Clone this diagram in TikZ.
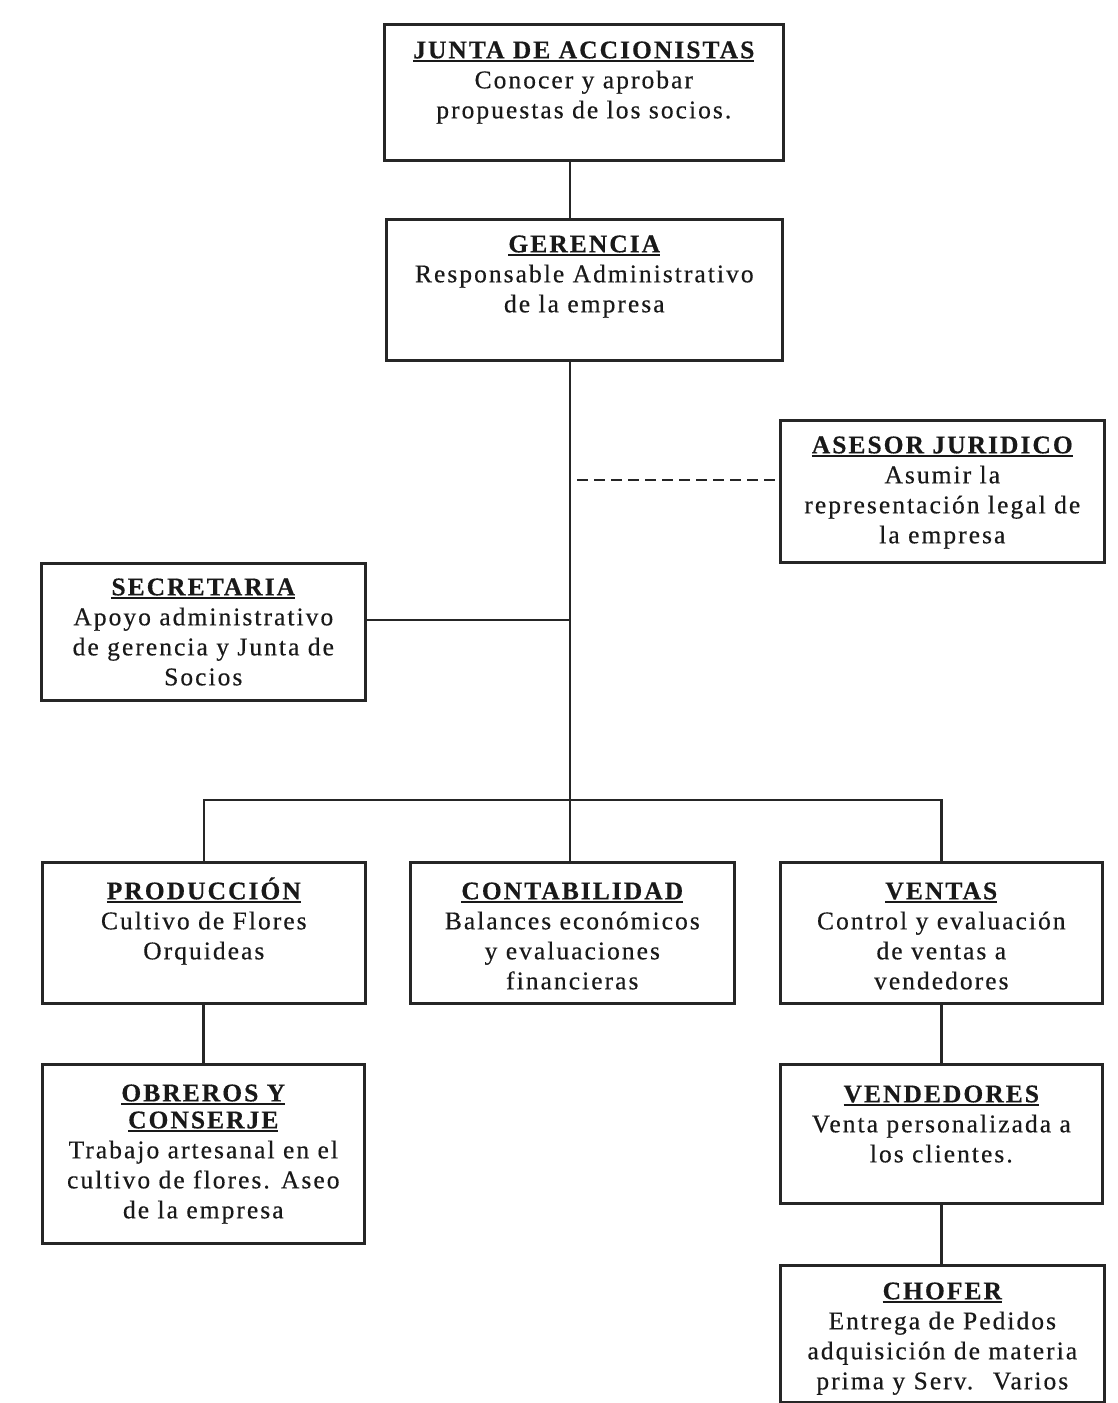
\documentclass[tikz,border=0pt]{standalone}
\usepackage{fontspec}
\setmainfont{Liberation Serif}[LetterSpace=8, FakeBold=0.4]

% underlined heading line
\newsavebox{\headbox}
\newcommand{\headline}[1]{\leavevmode
  \sbox{\headbox}{#1}%
  \rlap{\rule[-3.5pt]{\wd\headbox}{1.7pt}}\usebox{\headbox}}

% box text: width, height, title drop, title, body
\newcommand{\cardtext}[5]{%
  \parbox[c][#2][t]{#1}{\centering\fontsize{25.5}{30}\selectfont
    \rule{0pt}{#3}\textbf{#4}\\#5\par}}

\tikzset{
  card/.style={draw=black!85, line width=2.6pt, inner sep=0pt, anchor=north west,
    text=black!90},
  link/.style={draw=black!85, line width=2.4pt},
  dottedlink/.style={draw=black!85, line width=2.2pt, dash pattern=on 11pt off 6pt},
}

\begin{document}
\begin{tikzpicture}[x=1pt,y=1pt]
  \useasboundingbox (0,0) rectangle (1118,-1403);
  \fill[white] (0,0) rectangle (1118,-1403);

  % top levels
  \node[card] (junta) at (383,-23)
    {\cardtext{399pt}{136pt}{34pt}{\headline{JUNTA DE ACCIONISTAS}}{Conocer y aprobar\\propuestas de los socios.}};
  \node[card] (gerencia) at (385,-218)
    {\cardtext{396pt}{141pt}{33pt}{\headline{GERENCIA}}{Responsable Administrativo\\de la empresa}};

  % staff positions
  \node[card] (asesor) at (779,-419)
    {\cardtext{324pt}{142pt}{33pt}{\headline{ASESOR JURIDICO}}{Asumir la\\representación legal de\\la empresa}};
  \node[card] (secretaria) at (40,-562)
    {\cardtext{324pt}{137pt}{32pt}{\headline{SECRETARIA}}{Apoyo administrativo\\de gerencia y Junta de\\Socios}};

  % departments
  \node[card] (produccion) at (41,-861)
    {\cardtext{323pt}{141pt}{37pt}{\headline{PRODUCCIÓN}}{Cultivo de Flores\\Orquideas}};
  \node[card] (contabilidad) at (409,-861)
    {\cardtext{324pt}{141pt}{37pt}{\headline{CONTABILIDAD}}{Balances económicos\\y evaluaciones\\financieras}};
  \node[card] (ventas) at (779,-861)
    {\cardtext{322pt}{141pt}{37pt}{\headline{VENTAS}}{Control y evaluación\\de ventas a\\vendedores}};

  % lower levels
  \node[card] (obreros) at (41,-1063)
    {\cardtext{322pt}{179pt}{37pt}{\headline{OBREROS Y}\\[-3pt]\headline{CONSERJE}}{Trabajo artesanal en el\\cultivo de flores. Aseo\\de la empresa}};
  \node[card] (vendedores) at (779,-1063)
    {\cardtext{322pt}{139pt}{38pt}{\headline{VENDEDORES}}{Venta personalizada a\\los clientes.}};
  \node[card] (chofer) at (779,-1264)
    {\cardtext{324pt}{137pt}{34pt}{\headline{CHOFER}}{Entrega de Pedidos\\adquisición de materia\\prima y Serv.~ Varios}};

  % junction points of the trunk
  \coordinate (trunk) at (570,-800);
  \coordinate (secjoin) at (570,-620);
  \coordinate (advjoin) at (577,-480);

  % connectors
  \draw[link] (junta.south -| trunk) -- (gerencia.north -| trunk);
  \draw[link] (gerencia.south -| trunk) -- (trunk);
  \draw[link] (secretaria.east |- secjoin) -- (secjoin);
  \draw[dottedlink] (advjoin) -- (advjoin -| asesor.west);
  \draw[link] (produccion.north) |- (trunk) -| (ventas.north);
  \draw[link] (trunk) -- (contabilidad.north -| trunk);
  \draw[link] (produccion.south -| obreros.north) -- (obreros.north);
  \draw[link] (ventas.south) -- (vendedores.north);
  \draw[link] (vendedores.south) -- (vendedores.south |- chofer.north);
\end{tikzpicture}
\end{document}
